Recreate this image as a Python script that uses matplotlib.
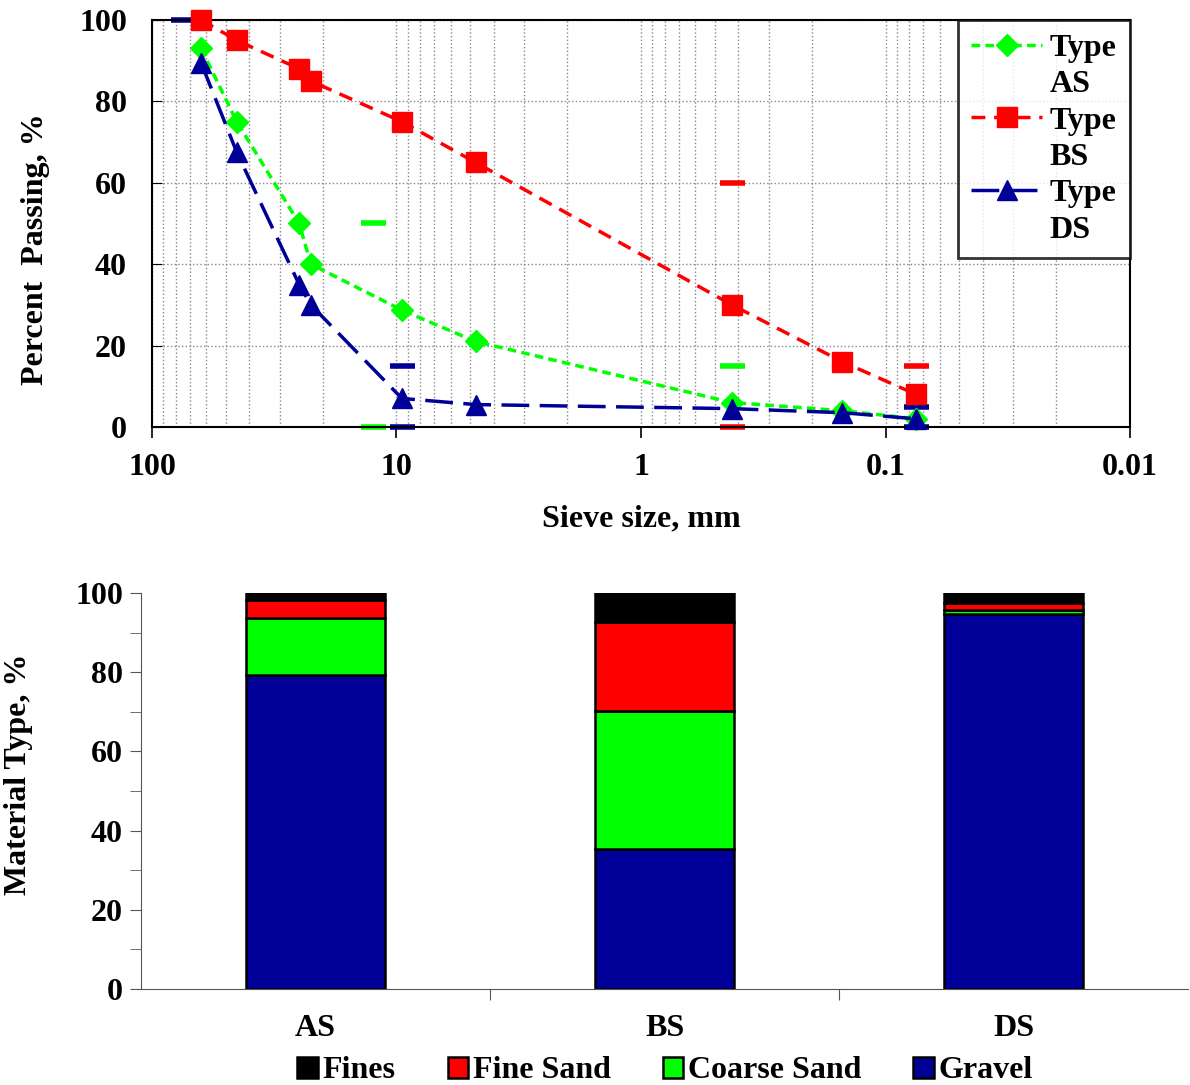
import numpy as np
import matplotlib
matplotlib.use("Agg")
import matplotlib.pyplot as plt
from matplotlib.lines import Line2D
from matplotlib.ticker import FixedLocator, NullFormatter

plt.rcParams['font.family'] = ['Liberation Serif', 'DejaVu Serif']
plt.rcParams['font.weight'] = 'bold'

# sieve sizes, mm
sieve = [63, 45, 25, 22.4, 9.5, 4.75, 0.425, 0.15, 0.075]
pass_as = [93, 75, 50, 40, 28.7, 21, 6, 4, 2]
pass_bs = [100, 95, 88, 85, 75, 65, 30, 16, 8]
pass_ds = [89.5, 67.5, 35, 30, 7, 5.5, 4.5, 3.5, 2]

# grading limit marks
lim_as_x = [12.5, 12.5, 0.425]
lim_as_y = [50, 0, 15]
lim_bs_x = [0.425, 0.425, 0.075]
lim_bs_y = [60, 0, 15]
lim_ds_x = [75, 9.5, 9.5, 0.075, 0.075]
lim_ds_y = [100, 15, 0, 5, 0]

# material composition, %
samples = ['AS', 'BS', 'DS']
gravel = [79.3, 35.4, 94.7]
coarse_sand = [14.4, 34.8, 1.0]
fine_sand = [4.5, 22.5, 1.8]
fines = [1.8, 7.3, 2.5]

GREEN = '#00ff00'
RED = '#ff0000'
BLUE = '#000099'
FS = 23

fig = plt.figure(figsize=(11.9, 10.85), dpi=100)

# ---- gradation curves ----
ax = fig.add_axes([0.1277, 0.6065, 0.8219, 0.3751])
ax.set_xscale('log')
ax.set_xlim(100, 0.01)
ax.set_ylim(0, 100)

l_as, = ax.plot(sieve, pass_as, color=GREEN, lw=2.5, ls=(0, (2.5, 1.5)),
                marker='D', ms=11, zorder=4, clip_on=False)
l_bs, = ax.plot(sieve, pass_bs, color=RED, lw=2.5, ls=(0, (4, 2.5)),
                marker='s', ms=14, zorder=3, clip_on=False)
l_ds, = ax.plot(sieve, pass_ds, color=BLUE, lw=2.5, ls=(0, (8, 3)),
                marker='^', ms=14, zorder=5, clip_on=False)

ax.plot(lim_as_x, lim_as_y, ls='none', marker='_', color=GREEN, ms=18, mew=4, clip_on=False)
ax.plot(lim_bs_x, lim_bs_y, ls='none', marker='_', color=RED, ms=18, mew=4, clip_on=False)
ax.plot(lim_ds_x, lim_ds_y, ls='none', marker='_', color=BLUE, ms=18, mew=4, clip_on=False)

ax.set_xticks([100, 10, 1, 0.1, 0.01])
ax.set_xticklabels(['100', '10', '1', '0.1', '0.01'])
ax.xaxis.set_minor_formatter(NullFormatter())
ax.set_yticks([0, 20, 40, 60, 80, 100])
ax.grid(True, which='both', axis='x', color='#888888', ls=':', lw=1)
ax.grid(True, which='major', axis='y', color='#888888', ls=':', lw=1)
ax.tick_params(axis='x', which='major', labelsize=FS, length=8, width=1.2, pad=11)
ax.tick_params(axis='x', which='minor', length=0)
ax.tick_params(axis='y', labelsize=FS, direction='in', length=7, pad=18)
for s in ax.spines.values():
    s.set_linewidth(1.5)
ax.set_xlabel('Sieve size, mm', fontsize=FS, fontweight='bold')
ax.xaxis.set_label_coords(0.5, -0.19)
ax.set_ylabel('Percent  Passing, %', fontsize=FS, fontweight='bold')
ax.yaxis.set_label_coords(-0.104, 0.437)

blank = Line2D([], [], color='none')
leg = ax.legend([l_as, blank, l_bs, blank, l_ds, blank],
                ['Type', 'AS', 'Type', 'BS', 'Type', 'DS'],
                loc='upper right', fontsize=FS, frameon=True, fancybox=False,
                borderaxespad=0, handlelength=2.2, labelspacing=0.22,
                borderpad=0.42, handletextpad=0.25)
leg.get_frame().set_edgecolor('black')
leg.get_frame().set_linewidth(2)

# ---- material composition ----
bx = fig.add_axes([0.1185, 0.0885, 0.88, 0.365])
pos = np.arange(len(samples))
bottom = np.zeros(len(samples))
parts = [(gravel, BLUE, 'Gravel'), (coarse_sand, GREEN, 'Coarse Sand'),
         (fine_sand, RED, 'Fine Sand'), (fines, 'black', 'Fines')]
handles = {}
for vals, col, name in parts:
    handles[name] = bx.bar(pos, vals, 0.4, bottom=bottom, color=col,
                           edgecolor='black', lw=1.8)
    bottom += np.array(vals)

bx.set_xlim(-0.5, len(samples) - 0.5)
bx.set_ylim(0, 100)
bx.set_yticks([0, 20, 40, 60, 80, 100])
bx.yaxis.set_minor_locator(FixedLocator([10, 30, 50, 70, 90]))
bx.xaxis.set_major_locator(FixedLocator([0.5, 1.5]))
bx.xaxis.set_minor_locator(FixedLocator(pos))
bx.xaxis.set_major_formatter(NullFormatter())
bx.set_xticklabels(samples, minor=True)
bx.tick_params(axis='x', which='major', length=8, color='#555555')
bx.tick_params(axis='x', which='minor', length=0, labelsize=FS, pad=18)
bx.tick_params(axis='y', which='both', length=8, color='#555555', labelsize=FS, pad=5)
bx.spines['top'].set_visible(False)
bx.spines['right'].set_visible(False)
bx.spines['left'].set_color('#555555')
bx.spines['bottom'].set_color('#555555')
bx.set_ylabel('Material Type, %', fontsize=FS, fontweight='bold')
bx.yaxis.set_label_coords(-0.103, 0.543)

order = ['Fines', 'Fine Sand', 'Coarse Sand', 'Gravel']
fig.legend([handles[k] for k in order], order, loc='center',
           bbox_to_anchor=(0.559, 0.013), ncol=4, fontsize=FS, frameon=False,
           handlelength=0.65, handleheight=0.65, handletextpad=0.15,
           columnspacing=1.62)

fig.savefig('out.png', dpi=100)
